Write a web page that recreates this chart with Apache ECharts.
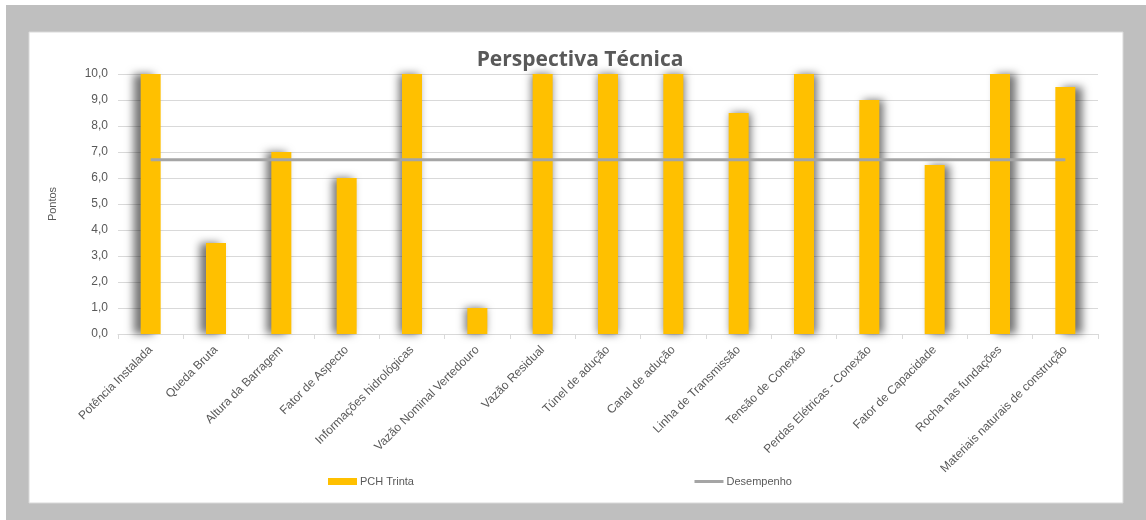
<!DOCTYPE html>
<html>
<head>
<meta charset="utf-8">
<script src="https://cdn.jsdelivr.net/npm/echarts@6/dist/echarts.min.js"></script>
<style>
  html, body { margin: 0; padding: 0; background: #ffffff; }
  #chart { width: 1146px; height: 520px; }
</style>
</head>
<body>
<div id="chart"></div>
<script>
// Criteria evaluated in the technical perspective
const categories = [
  'Potência Instalada', 'Queda Bruta', 'Altura da Barragem', 'Fator de Aspecto',
  'Informações hidrológicas', 'Vazão Nominal Vertedouro', 'Vazão Residual',
  'Túnel de adução', 'Canal de adução', 'Linha de Transmissão', 'Tensão de Conexão',
  'Perdas Elétricas - Conexão', 'Fator de Capacidade', 'Rocha nas fundações',
  'Materiais naturais de construção'
];
// Scores of the project
const pchTrinta = [10, 3.5, 7.0, 6.0, 10, 1.0, 10, 10, 10, 8.5, 10, 9.0, 6.5, 10, 9.5];
// Reference performance level
const desempenho = [6.7, 6.7, 6.7, 6.7, 6.7, 6.7, 6.7, 6.7, 6.7, 6.7, 6.7, 6.7, 6.7, 6.7, 6.7];
// Y axis range
const yMin = 0, yMax = 10, yStep = 1;

const chart = echarts.init(document.getElementById('chart'), null, { renderer: 'canvas' });

const textColor = '#595959';
const n = categories.length;

// Perspective-style shadow: leans left on the left side, right on the right side
const barData = pchTrinta.map((v, i) => ({
  value: v,
  itemStyle: {
    shadowColor: 'rgba(0,0,0,0.55)',
    shadowBlur: 8,
    shadowOffsetX: Math.round(-7 + 14 * i / (n - 1)),
    shadowOffsetY: 0
  }
}));

chart.setOption({
  backgroundColor: '#ffffff',
  animation: false,
  graphic: [
    { type: 'rect', z: -10, shape: { x: 6, y: 5, width: 1140, height: 515 }, style: { fill: '#BFBFBF' } },
    { type: 'rect', z: -9, shape: { x: 29, y: 32, width: 1094, height: 471 }, style: { fill: '#ffffff', stroke: '#D9D9D9', lineWidth: 1 } }
  ],
  title: {
    text: 'Perspectiva Técnica',
    left: 575,
    textAlign: 'center',
    top: 45,
    textStyle: { fontFamily: 'Open Sans', fontWeight: 'bold', fontSize: 21, color: textColor }
  },
  legend: {
    left: 323,
    top: 471,
    itemGap: 279,
    itemWidth: 29,
    itemHeight: 7,
    textStyle: { fontFamily: 'Liberation Sans', fontSize: 11, color: textColor, padding: [0, 0, 0, -2] },
    data: [
      { name: 'PCH Trinta', icon: 'rect' },
      { name: 'Desempenho', itemStyle: { opacity: 0 }, lineStyle: { color: '#A5A5A5', width: 3 } }
    ]
  },
  grid: { left: 118, right: 48, top: 74, bottom: 186 },
  xAxis: {
    type: 'category',
    data: categories,
    boundaryGap: true,
    axisLine: { lineStyle: { color: '#D9D9D9' } },
    axisTick: { show: true, length: 5, lineStyle: { color: '#D9D9D9' } },
    axisLabel: {
      interval: 0,
      rotate: 45,
      margin: 14,
      fontFamily: 'Liberation Sans',
      fontSize: 12,
      color: textColor
    }
  },
  yAxis: {
    type: 'value',
    min: yMin,
    max: yMax,
    interval: yStep,
    name: 'Pontos',
    nameLocation: 'middle',
    nameGap: 60,
    nameRotate: 90,
    nameTextStyle: { fontFamily: 'Liberation Sans', fontSize: 11, color: textColor },
    axisLine: { show: false },
    axisTick: { show: false },
    splitLine: { lineStyle: { color: '#D9D9D9' } },
    axisLabel: {
      margin: 10,
      fontFamily: 'Liberation Sans',
      fontSize: 12,
      color: textColor,
      formatter: v => v.toFixed(1).replace('.', ',')
    }
  },
  series: [
    {
      name: 'PCH Trinta',
      type: 'bar',
      data: barData,
      barWidth: 20,
      itemStyle: { color: '#FFC000' }
    },
    {
      name: 'Desempenho',
      type: 'line',
      data: desempenho,
      symbol: 'none',
      lineStyle: { color: '#A5A5A5', width: 3 },
      itemStyle: { color: '#A5A5A5' },
      z: 3
    }
  ]
});
</script>
</body>
</html>
